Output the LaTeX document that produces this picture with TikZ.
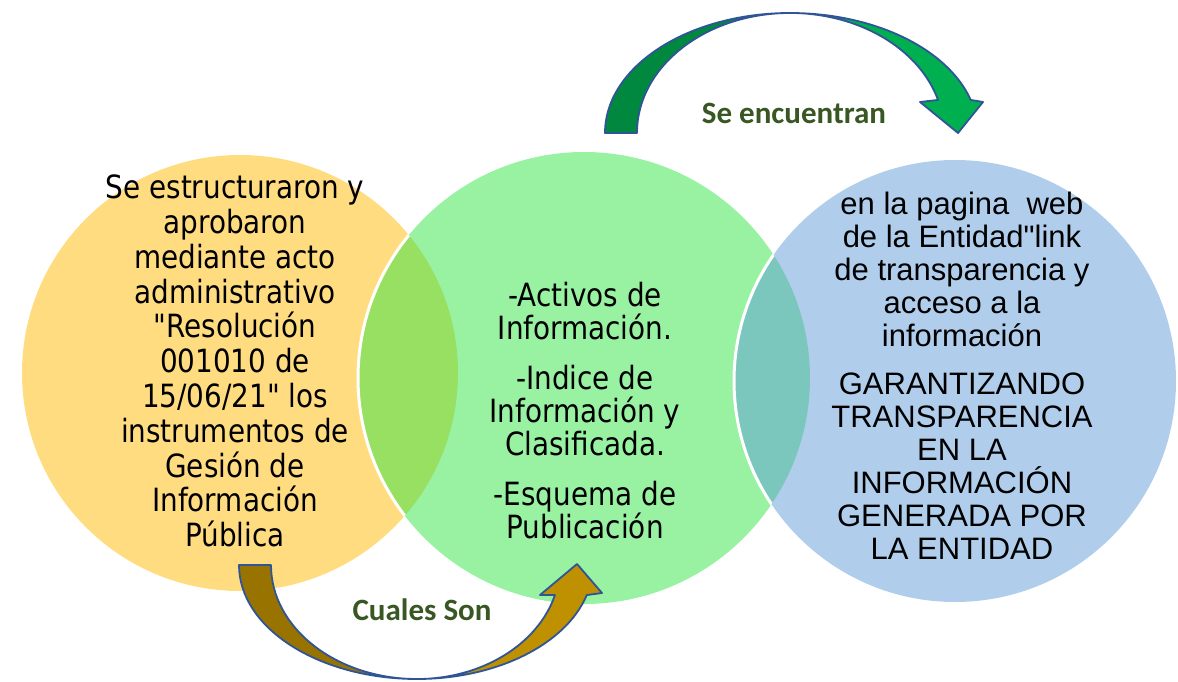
\documentclass[tikz,border=0pt]{standalone}
\usepackage{fontspec}
\setmainfont{Liberation Sans}
\newfontfamily\tahfont[FakeStretch=0.87]{DejaVu Sans}
\newfontfamily\arifont{Liberation Sans}
\newfontfamily\calfont{Carlito}
\definecolor{ybase}{RGB}{255,186,2}
\definecolor{gbase}{RGB}{49,229,69}
\definecolor{bbase}{RGB}{97,157,217}
\definecolor{arrowline}{RGB}{47,85,151}
\definecolor{gdark}{RGB}{0,136,62}
\definecolor{glight}{RGB}{0,176,80}
\definecolor{odark}{RGB}{153,115,0}
\definecolor{olight}{RGB}{191,144,0}
\definecolor{labelgreen}{RGB}{56,87,35}
\tikzset{
  circfill/.style={fill opacity=0.5},
  rim/.style={draw=white, line width=3pt},
  arrowpart/.style={draw=arrowline, line width=1.8pt, line join=round},
  lefttext/.style={align=center, font=\tahfont\fontsize{32}{34.8}\selectfont},
  midtext/.style={align=center, font=\tahfont\fontsize{32}{33}\selectfont},
  righttext/.style={align=center, font=\arifont\fontsize{31}{33}\selectfont},
  arrowlabel/.style={font=\calfont\bfseries\fontsize{31}{34}\selectfont, text=labelgreen}
}
\begin{document}
\begin{tikzpicture}[x=1pt,y=1pt]
\useasboundingbox (0,0) rectangle (1178,681);
% circles
\coordinate (cy) at (240,308);
\coordinate (cg) at (584,303);
\coordinate (cb) at (955,300);
\fill[ybase, circfill] (cy) circle[radius=218];
\fill[gbase, circfill] (cg) circle[radius=226];
\fill[bbase, circfill] (cb) circle[radius=221];
\begin{scope}
  \clip (cy) circle[radius=218];
  \draw[rim] (cg) circle[radius=226];
\end{scope}
\begin{scope}
  \clip (cg) circle[radius=226];
  \draw[rim] (cb) circle[radius=221];
\end{scope}
% top arrow
\filldraw[arrowpart, fill=gdark] (605,548) arc[start angle=180, end angle=90, x radius=185, y radius=120]
  arc[start angle=90, end angle=180, x radius=153, y radius=120] -- cycle;
\filldraw[arrowpart, fill=glight] (790,668) arc[start angle=90, end angle=16, x radius=188, y radius=120]
  -- (983,579) -- (958,548) -- (920,579) -- (938.0,581.1)
  arc[start angle=16, end angle=90, x radius=154, y radius=120] -- cycle;
% bottom arrow
\filldraw[arrowpart, fill=odark] (239,116) arc[start angle=180, end angle=270, x radius=178, y radius=114]
  arc[start angle=270, end angle=180, x radius=146, y radius=114] -- cycle;
\filldraw[arrowpart, fill=olight] (417,2) arc[start angle=270, end angle=344.7, x radius=176, y radius=114]
  -- (602,88) -- (577,117) -- (540,86) -- (554.9,85.9)
  arc[start angle=344.7, end angle=270, x radius=143, y radius=114] -- cycle;
% texts
\node[lefttext] (t1) at (235,320) {Se estructuraron y\\aprobaron\\mediante acto\\administrativo\\"Resolución\\001010 de\\15/06/21" los\\instrumentos de\\Gesión de\\Información\\Pública};
\node[midtext] (t2) at (585,270) {-Activos de\\Información.\\[17pt]-Indice de\\Información y\\Clasificada.\\[17pt]-Esquema de\\Publicación};
\node[righttext] (t3) at (962,305) {en la pagina~~web\\de la Entidad"link\\de transparencia y\\acceso a la\\información\\[15pt]GARANTIZANDO\\TRANSPARENCIA\\EN LA\\INFORMACIÓN\\GENERADA POR\\LA ENTIDAD};
\node[arrowlabel] (l1) at (794,568) {Se encuentran};
\node[arrowlabel] (l2) at (422,71) {Cuales Son};
\end{tikzpicture}
\end{document}
